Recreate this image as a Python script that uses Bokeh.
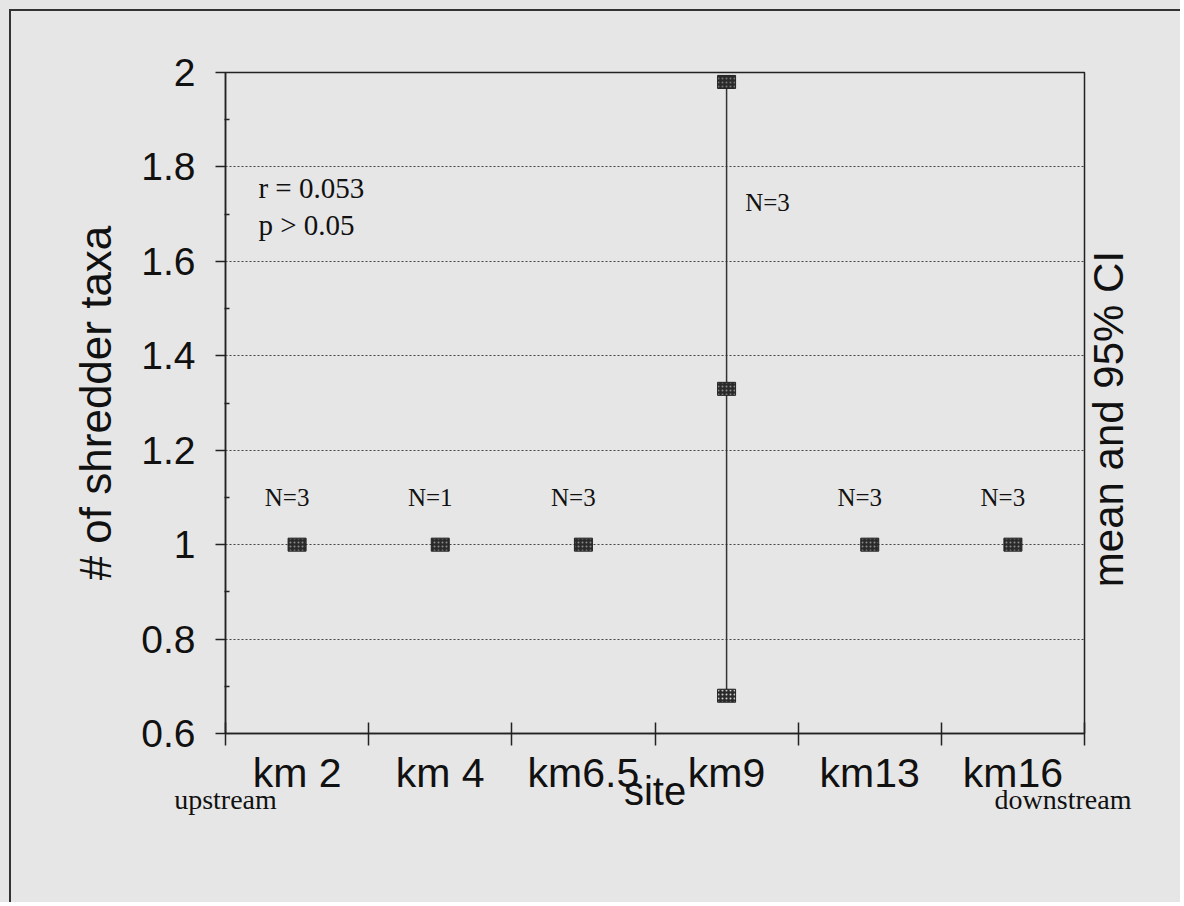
import math
from bokeh.plotting import figure
from bokeh.models import (ColumnDataSource, FixedTicker, Label, LinearAxis,
                          Range1d)
from bokeh.core.properties import value
from bokeh.embed import file_html
from bokeh.resources import INLINE

# ---- data ----
sites = ["km 2", "km 4", "km6.5", "km9", "km13", "km16"]
mean_taxa = [1.0, 1.0, 1.0, 1.33, 1.0, 1.0]
ci_lower = [1.0, 1.0, 1.0, 0.68, 1.0, 1.0]
ci_upper = [1.0, 1.0, 1.0, 1.98, 1.0, 1.0]
n_samples = [3, 1, 3, 3, 3, 3]
y_ticks = [0.6, 0.8, 1.0, 1.2, 1.4, 1.6, 1.8, 2.0]
stats_text = ["r = 0.053", "p > 0.05"]
direction_text = ["upstream", "downstream"]
right_title = "mean and 95% CI"

BG = "#e6e6e6"
INK = "#111111"
SANS = "Liberation Sans"
SERIF = "Liberation Serif"

xpos = [i + 0.5 for i in range(len(sites))]
y0, y1 = y_ticks[0], y_ticks[-1]

p = figure(width=1180, height=902, output_backend="svg", toolbar_location=None,
           x_range=Range1d(0, len(sites)), y_range=Range1d(y0, y1),
           min_border_left=225, min_border_right=96, min_border_top=72,
           min_border_bottom=169)
p.background_fill_color = BG
p.border_fill_color = None
# page background with the thin frame of the scanned sheet
p.styles = {
    "background": ("linear-gradient(#333333, #333333) 9px 9px / 2px 100% no-repeat, "
                   "linear-gradient(#333333, #333333) 9px 9px / 100% 2px no-repeat, "
                   + BG),
}
p.outline_line_color = "#222222"
p.outline_line_width = 1.5

# ---- x axis: labels at centres, ticks at boundaries ----
xa = p.xaxis[0]
xa.ticker = FixedTicker(ticks=xpos, minor_ticks=list(range(len(sites) + 1)))
xa.major_label_overrides = {x: s for x, s in zip(xpos, sites)}
xa.major_tick_line_color = None
xa.minor_tick_line_color = "#222222"
xa.minor_tick_line_width = 1.5
xa.minor_tick_in = 11
xa.minor_tick_out = 12
xa.axis_line_color = "#222222"
xa.axis_line_width = 1.5
xa.major_label_text_font = SANS
xa.major_label_text_font_size = "41px"
xa.major_label_text_color = INK
xa.major_label_standoff = 4
xa.axis_label = "site"
xa.axis_label_text_font = SANS
xa.axis_label_text_font_size = "40px"
xa.axis_label_text_font_style = "normal"
xa.axis_label_text_color = INK
xa.axis_label_standoff = -30

# ---- second axis below: upstream / downstream ----
end_pos = [0, len(sites) - 0.15]
da = LinearAxis(ticker=FixedTicker(ticks=end_pos),
                major_label_overrides={x: t for x, t in zip(end_pos, direction_text)},
                axis_line_color=None, major_tick_line_color=None,
                minor_tick_line_color=None, major_label_text_font=SERIF,
                major_label_text_font_size="28px", major_label_text_color=INK,
                major_label_standoff=-38)
p.add_layout(da, "below")

# ---- y axis ----
ya = p.yaxis[0]
ya.ticker = FixedTicker(ticks=y_ticks,
                        minor_ticks=[round(t + 0.1, 1) for t in y_ticks[:-1]])
ya.major_label_overrides = {t: ("%g" % t) for t in y_ticks}
ya.major_tick_in = 0
ya.major_tick_out = 10
ya.major_tick_line_color = "#222222"
ya.major_tick_line_width = 1.5
ya.minor_tick_in = 4
ya.minor_tick_out = 1
ya.minor_tick_line_color = "#222222"
ya.minor_tick_line_width = 1.5
ya.axis_line_color = "#222222"
ya.axis_line_width = 1.5
ya.major_label_text_font = SANS
ya.major_label_text_font_size = "39px"
ya.major_label_text_color = INK
ya.major_label_standoff = 20
ya.axis_label = "# of shredder taxa"
ya.axis_label_text_font = SANS
ya.axis_label_text_font_size = "44px"
ya.axis_label_text_font_style = "normal"
ya.axis_label_text_color = INK
ya.axis_label_standoff = 18

# ---- right side title (a single rotated tick label, anchored at its start) ----
rt = y0 + 0.31
ra = LinearAxis(ticker=FixedTicker(ticks=[rt]),
                major_label_overrides={rt: right_title},
                major_label_orientation=math.pi / 2,
                axis_line_color=None, major_tick_line_color=None,
                minor_tick_line_color=None, major_label_text_font=SANS,
                major_label_text_font_size="42px", major_label_text_color=INK,
                major_label_standoff=18)
p.add_layout(ra, "right")

# ---- grid ----
p.xgrid.grid_line_color = None
p.ygrid.ticker = FixedTicker(ticks=y_ticks[1:-1])
p.ygrid.grid_line_color = "#444444"
p.ygrid.grid_line_dash = "2 2"
p.ygrid.grid_line_width = 1

# ---- error bars ----
src = ColumnDataSource(dict(x=xpos, mean=mean_taxa, lo=ci_lower, hi=ci_upper,
                            n=["N=%d" % n for n in n_samples]))
p.segment(x0="x", y0="lo", x1="x", y1="hi", source=src,
          line_color="#333333", line_width=1.5)

# CI end markers (only where an interval exists)
ex, ey, ehc = [], [], []
for x, lo, hi, m in zip(xpos, ci_lower, ci_upper, mean_taxa):
    if hi > m:
        ex.append(x); ey.append(hi); ehc.append("#777777")
    if lo < m:
        ex.append(x); ey.append(lo); ehc.append("#cfcfcf")
p.rect(x=ex, y=ey, width=18, height=13, width_units="screen",
       height_units="screen", fill_color="#2a2a2a", line_color="#222222",
       hatch_pattern="dot", hatch_color=ehc, hatch_scale=4, hatch_weight=1.5)

# mean markers
p.rect(x="x", y="mean", width=18, height=13, width_units="screen",
       height_units="screen", source=src, fill_color="#2a2a2a",
       line_color="#222222", hatch_pattern="dot", hatch_color="#8a8a8a",
       hatch_scale=4, hatch_weight=1.5)

# ---- N labels ----
nx, ny, nt, na = [], [], [], []
for x, lo, hi, m, n in zip(xpos, ci_lower, ci_upper, mean_taxa, src.data["n"]):
    if hi > m:
        nx.append(x + 0.13); ny.append(hi - 0.255); na.append("left")
    else:
        nx.append(x - 0.07); ny.append(m + 0.1); na.append("center")
    nt.append(n)
p.text(x=nx, y=ny, text=nt, text_align=na, text_baseline="middle",
       text_font=value(SERIF), text_font_size="25px", text_color=INK)

# ---- statistics ----
for i, s in enumerate(stats_text):
    p.add_layout(Label(x=0.23, y=1.756 - 0.08 * i, text=s, text_font=SERIF,
                       text_font_size="29px", text_color=INK,
                       text_baseline="middle", text_align="left"))

open("out.html", "w").write(file_html(p, INLINE))
